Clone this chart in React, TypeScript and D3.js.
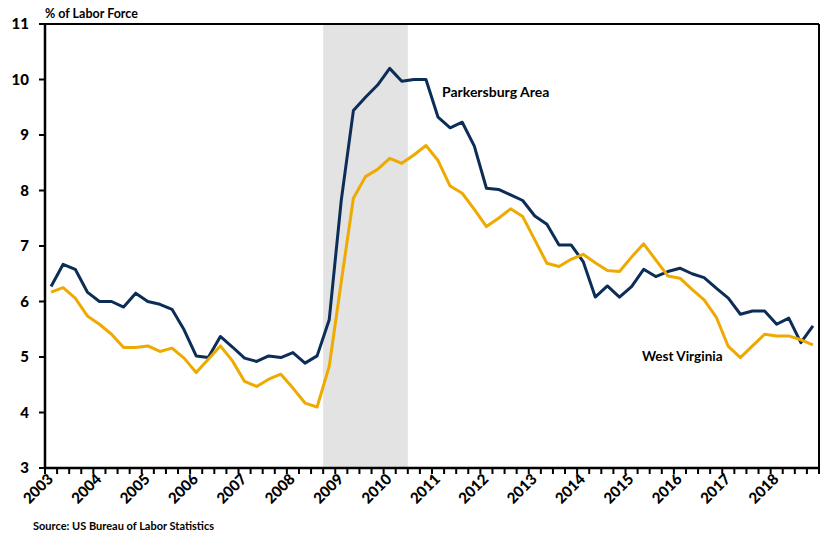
import React from "react";
import * as d3 from "d3";

// quarterly unemployment rate, % of labor force, 2003 Q1 - 2018 Q4
const years = d3.range(2003, 2019);
const quarters = ["Q1", "Q2", "Q3", "Q4"];
const categories = years.flatMap(y => quarters.map(q => `${y} ${q}`));

const parkersburg = [
  6.27, 6.67, 6.58, 6.17, 6.0, 6.0, 5.9, 6.15,
  6.0, 5.95, 5.86, 5.49, 5.02, 4.99, 5.37, 5.18,
  4.98, 4.92, 5.02, 4.99, 5.08, 4.89, 5.02, 5.67,
  7.83, 9.44, 9.68, 9.9, 10.2, 9.97, 10.0, 10.0,
  9.32, 9.13, 9.23, 8.8, 8.04, 8.02, 7.92, 7.82,
  7.54, 7.39, 7.02, 7.02, 6.72, 6.08, 6.28, 6.08,
  6.27, 6.58, 6.45, 6.54, 6.6, 6.5, 6.43, 6.24,
  6.06, 5.77, 5.83, 5.83, 5.59, 5.7, 5.26, 5.56
];

const westVirginia = [
  6.17, 6.25, 6.06, 5.74, 5.59, 5.41, 5.17, 5.17,
  5.2, 5.1, 5.16, 4.98, 4.72, 4.96, 5.2, 4.93,
  4.56, 4.47, 4.6, 4.69, 4.44, 4.17, 4.1, 4.83,
  6.36, 7.86, 8.25, 8.38, 8.58, 8.49, 8.64, 8.81,
  8.54, 8.08, 7.95, 7.66, 7.35, 7.5, 7.67, 7.53,
  7.11, 6.69, 6.63, 6.76, 6.85, 6.7, 6.56, 6.54,
  6.8, 7.04, 6.75, 6.46, 6.42, 6.22, 6.03, 5.72,
  5.19, 4.99, 5.2, 5.41, 5.38, 5.38, 5.31, 5.22
];

const yTicks = [3, 4, 5, 6, 7, 8, 9, 10, 11];
const recessionStart = "2008 Q4";
const recessionEnd = "2010 Q2";

const navy = "#0c2d58";
const gold = "#eeaa00";
const font = "Lato, 'Open Sans', sans-serif";

export default function App() {
  const width = 825;
  const height = 535;
  const left = 45, right = 819, top = 24, bottom = 468;

  const x = d3.scaleBand().domain(categories).range([left, right]).padding(0);
  const y = d3.scaleLinear().domain([3, 11]).range([bottom, top]);
  const cx = (c: string) => x(c)! + x.bandwidth() / 2;

  const line = d3.line<number>()
    .x((d, i) => cx(categories[i]))
    .y(d => y(d));

  const boundaries = categories.map(c => x(c)!).concat([right]);
  const recX0 = x(recessionStart)!;
  const recX1 = x(recessionEnd)! + x.bandwidth();

  return (
    <svg width={width} height={height} style={{ position: "absolute", left: 0, top: 0, fontFamily: font }}>
      <rect x={0} y={0} width={width} height={height} fill="#fff" />
      <rect x={recX0} y={top} width={recX1 - recX0} height={bottom - top} fill="#e3e3e3" />

      {/* frame */}
      <line x1={left - 5} x2={right} y1={top} y2={top} stroke="#000" strokeWidth={2} />
      <line x1={right} x2={right} y1={top} y2={bottom} stroke="#000" strokeWidth={2} />

      <path d={line(parkersburg)!} fill="none" stroke={navy} strokeWidth={3} strokeLinejoin="round" />
      <path d={line(westVirginia)!} fill="none" stroke={gold} strokeWidth={3} strokeLinejoin="round" />

      {/* y axis */}
      <line x1={left} x2={left} y1={top} y2={bottom} stroke="#000" strokeWidth={2.5} />
      {yTicks.map(t => (
        <g key={t}>
          <line x1={left - 6} x2={left} y1={y(t)} y2={y(t)} stroke="#000" strokeWidth={2} />
          <text x={29} y={y(t)} dy="0.36em" textAnchor="end" fontSize={15} fontWeight="900" fill="#000">{t}</text>
        </g>
      ))}

      {/* x axis */}
      <line x1={left - 1} x2={right + 1} y1={bottom} y2={bottom} stroke="#000" strokeWidth={2.5} />
      {boundaries.map((b, i) => (
        <line key={i} x1={b} x2={b} y1={bottom} y2={bottom + 6} stroke="#000" strokeWidth={2} />
      ))}
      {years.map(yr => {
        const px = cx(`${yr} Q1`) + 3;
        const py = bottom + 12;
        return (
          <text key={yr} x={px} y={py} transform={`rotate(-45 ${px} ${py})`} textAnchor="end"
            fontSize={15} fontWeight="900" fill="#000">{yr}</text>
        );
      })}

      <text x={45} y={18} fontSize={12.5} fontWeight="bold" fill="#000">% of Labor Force</text>
      <text x={442} y={97} fontSize={14} fontWeight="bold" fill="#000">Parkersburg Area</text>
      <text x={642} y={361} fontSize={13.5} fontWeight="bold" fill="#000">West Virginia</text>
      <text x={33} y={530} fontSize={11} fontWeight="bold" fill="#000">Source: US Bureau of Labor Statistics</text>
    </svg>
  );
}
